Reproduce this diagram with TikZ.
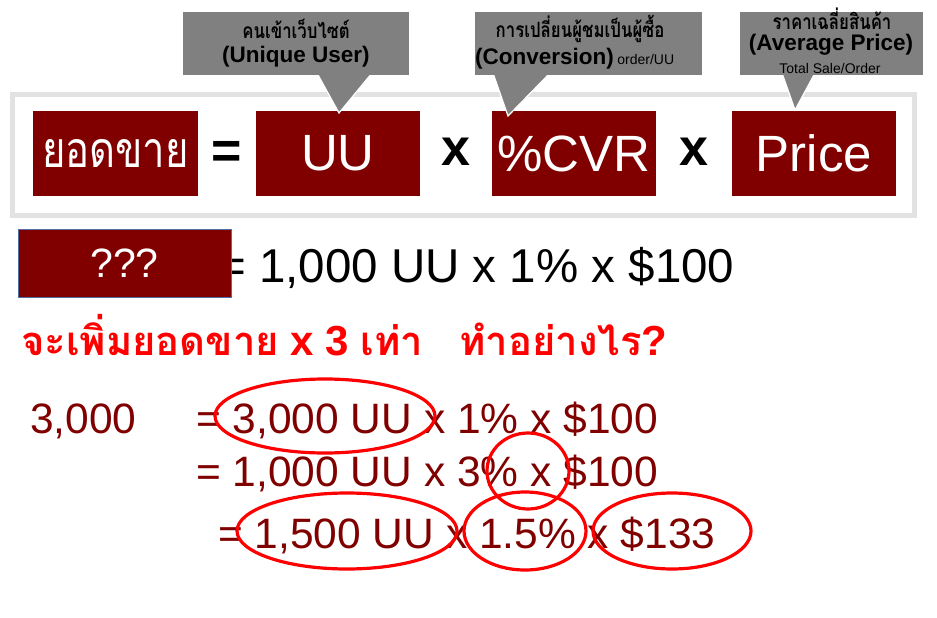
\documentclass[tikz,border=0pt]{standalone}
\usepackage{fontspec}
\setmainfont{Liberation Sans}
\newfontfamily\thaifont[Script=Thai]{Loma}
\newfontfamily\thainarrow[Script=Thai, FakeStretch=0.8]{Loma}
\usepackage{tikz}
\usetikzlibrary{positioning}
\definecolor{boxred}{RGB}{128,0,0}
\definecolor{calcred}{RGB}{128,0,0}
\definecolor{ringred}{RGB}{255,0,0}
\definecolor{taggray}{RGB}{128,128,128}
\definecolor{framegray}{RGB}{226,226,226}
\definecolor{qedge}{RGB}{79,111,165}
\newcommand{\fsz}[1]{\fontsize{#1}{#1}\selectfont}
\tikzset{
  termbox/.style={rectangle, fill=boxred, text=white, inner sep=0pt,
    minimum width=164pt, minimum height=85pt},
  opsign/.style={font=\fsz{52}\bfseries, inner sep=0pt},
  tagbox/.style={rectangle, fill=taggray, inner sep=0pt},
  tagtip/.style={fill=taggray, draw=white, line width=1.2pt, line join=miter},
  tagthai/.style={font=\thainarrow\bfseries\fsz{21}, inner sep=0pt},
  tageng/.style={font=\bfseries\fsz{22.5}, inner sep=0pt, anchor=base},
  tagsmall/.style={font=\fsz{14}, inner sep=0pt, anchor=base},
  calcline/.style={text=calcred, font=\fsz{42.5}, inner sep=0pt, anchor=base west},
  ring/.style={draw=ringred, line width=3.2pt}
}
\begin{document}
\begin{tikzpicture}[x=1pt, y=-1pt]
  \useasboundingbox (0,0) rectangle (937,618);
  % ── Formula frame ───────────────────────────────────────────────────────────
  \draw[framegray, line width=5pt] (12,94) rectangle (914,215);
  \node[termbox, minimum width=165pt, font=\thainarrow\fsz{50}] (sales) at (115.5,153.5) {ยอดขาย};
  \node[opsign] (eq) at (227,155) {=};
  \node[termbox, font=\fsz{51}] (uu) at (338,153.5) {UU};
  \node[opsign] (mulA) at (456,152) {x};
  \node[termbox, font=\fsz{51}] (cvr) at (574,153.5) {\%CVR};
  \node[opsign] (mulB) at (694,152) {x};
  \node[termbox, font=\fsz{51}] (price) at (814,153.5) {Price};

  % ── Callouts ────────────────────────────────────────────────────────────────
  \coordinate (uuTip) at (339,113);
  \coordinate (cvrTip) at (508,116);
  \coordinate (priceTip) at (795,110);
  \path[tagtip] (317,73) -- (uuTip) -- (372,73);
  \path[tagtip] (493,73) -- (cvrTip) -- (550,73);
  \path[tagtip] (782,73) -- (priceTip) -- (815,73);
  \node[tagbox, minimum width=226pt, minimum height=63pt] (uuTag) at (296,43.5) {};
  \node[tagbox, minimum width=227pt, minimum height=63pt] (cvrTag) at (588.5,43.5) {};
  \node[tagbox, minimum width=183pt, minimum height=63pt] (priceTag) at (831.5,43.5) {};
  % texts
  \node[tagthai] (uuThai) at (296,28.5) {คนเข้าเว็บไซต์};
  \node[tageng] (uuEng) at (296,63) {(Unique User)};
  \node[tagthai] (cvrThai) at (580,28.5) {การเปลี่ยนผู้ชมเป็นผู้ซื้อ};
  \node[tageng, anchor=base west] (cvrEng) at (475,64) {(Conversion)};
  \node[tagsmall, right=3pt of cvrEng.base east, anchor=base west] (cvrUnit) {order/UU};
  \node[tagthai] (priceThai) at (832,18.5) {ราคาเฉลี่ยสินค้า};
  \node[tageng] (priceEng) at (831,51) {(Average Price)};
  \node[tagsmall] (priceUnit) at (830,74) {Total Sale/Order};

  % ── Example line ────────────────────────────────────────────────────────────
  \node[font=\fsz{47.5}, inner sep=0pt, anchor=base west] (base) at (218,282)
    {= 1,000 UU x 1\% x \$100};
  \node[rectangle, fill=boxred, draw=qedge, line width=0.6pt, text=white,
    minimum width=213pt, minimum height=68pt, inner sep=0pt, font=\fsz{41}]
    (unknown) at (124.5,263) {???};

  % ── Question ────────────────────────────────────────────────────────────────
  \node[text=ringred, inner sep=0pt, anchor=base west, font=\bfseries\fsz{42}] (question) at (21,355)
    {{\thaifont\fsz{40}จะเพิ่มยอดขาย} x 3 {\thaifont\fsz{40}เท่า}\hspace{36pt}{\thaifont\fsz{40}ทำอย่างไร}?};

  % ── Calculations ────────────────────────────────────────────────────────────
  \node[calcline] (target) at (30,433) {3,000};
  \node[calcline] (optA) at (196,433) {= 3,000 UU x 1\% x \$100};
  \node[calcline] (optB) at (196,486) {= 1,000 UU x 3\% x \$100};
  \node[calcline] (optC) at (218,548) {= 1,500 UU x 1.5\% x \$133};
  % rings
  \draw[ring] (325,416) ellipse [x radius=110pt, y radius=37pt];
  \draw[ring] (528,471) ellipse [x radius=41pt, y radius=38pt];
  \draw[ring] (347,531) ellipse [x radius=110pt, y radius=38pt];
  \draw[ring] (525,531) ellipse [x radius=61pt, y radius=39pt];
  \draw[ring] (672,531) ellipse [x radius=79pt, y radius=38pt];
\end{tikzpicture}
\end{document}
